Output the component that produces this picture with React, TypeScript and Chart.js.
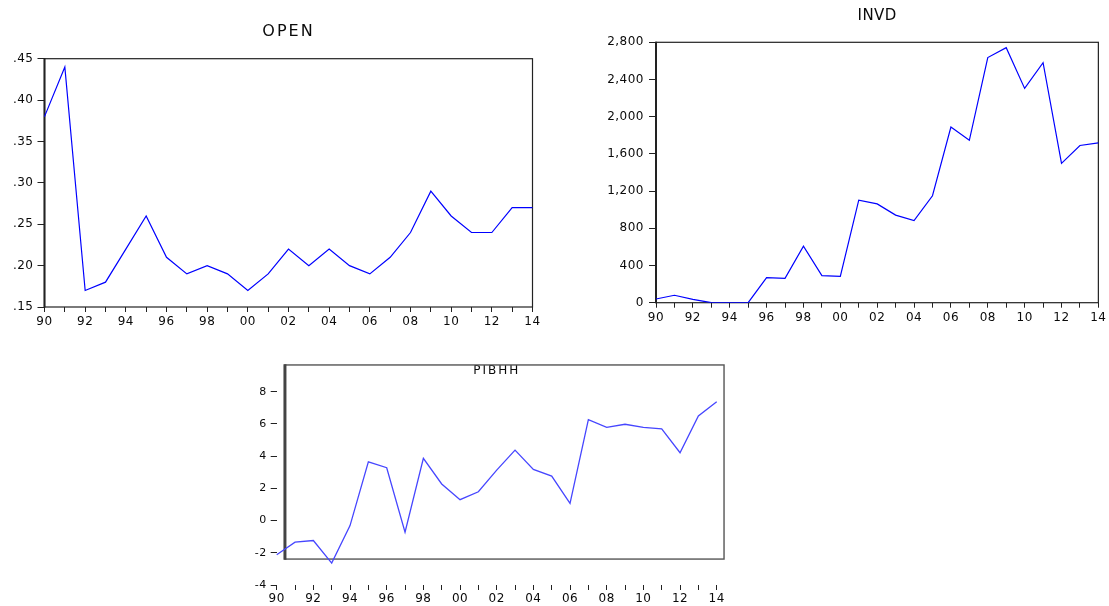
import React, { useEffect, useRef } from 'react';
import { Chart, registerables } from 'chart.js';

Chart.register(...registerables);

// ---------- data ----------
const years = ['90', '91', '92', '93', '94', '95', '96', '97', '98', '99', '00', '01', '02', '03', '04', '05', '06', '07', '08', '09', '10', '11', '12', '13', '14'];

const openValues = [0.38, 0.44, 0.17, 0.18, 0.22, 0.26, 0.21, 0.19, 0.20, 0.19, 0.17, 0.19, 0.22, 0.20, 0.22, 0.20, 0.19, 0.21, 0.24, 0.29, 0.26, 0.24, 0.24, 0.27, 0.27];
const invdValues = [40, 80, 35, 0, 0, 0, 270, 262, 608, 292, 282, 1102, 1062, 942, 884, 1150, 1888, 1746, 2636, 2742, 2304, 2580, 1498, 1690, 1718];
const pibhhValues = [-2.12, -1.34, -1.24, -2.64, -0.31, 3.65, 3.28, -0.72, 3.86, 2.27, 1.30, 1.79, 3.13, 4.37, 3.18, 2.76, 1.07, 6.27, 5.79, 5.98, 5.79, 5.69, 4.21, 6.49, 7.38];

const openYTicks = [0.15, 0.20, 0.25, 0.30, 0.35, 0.40, 0.45];
const invdYTicks = [0, 400, 800, 1200, 1600, 2000, 2400, 2800];
const pibhhYTicks = [-4, -2, 0, 2, 4, 6, 8];

// frame of the PIBHH panel, in data units (category index / value)
const pibhhFrame = { x0: 0.45, x1: 24.4, y0: -2.39, y1: 9.66 };

// ---------- plugins ----------
const spacingPlugin = {
  id: 'spacing',
  beforeDraw(chart: any, _a: any, opts: any) {
    chart.ctx.letterSpacing = opts.title || '0px';
  },
  afterDatasetsDraw(chart: any, _a: any, opts: any) {
    chart.ctx.letterSpacing = opts.ticks || '0px';
  },
  afterDraw(chart: any) {
    chart.ctx.letterSpacing = '0px';
  },
};

const framePlugin = {
  id: 'frame',
  beforeDatasetsDraw(chart: any, _a: any, opts: any) {
    const ctx = chart.ctx;
    let l: number, r: number, t: number, b: number;
    if (opts.box) {
      const xs = chart.scales.x;
      const ys = chart.scales.y;
      l = xs.getPixelForValue(opts.box.x0);
      r = xs.getPixelForValue(opts.box.x1);
      t = ys.getPixelForValue(opts.box.y1);
      b = ys.getPixelForValue(opts.box.y0);
    } else {
      const a = chart.chartArea;
      l = a.left; r = a.right; t = a.top; b = a.bottom;
    }
    ctx.save();
    ctx.strokeStyle = opts.color;
    ctx.lineWidth = opts.width;
    ctx.strokeRect(l, t, r - l, b - t);
    ctx.lineWidth = opts.leftWidth;
    ctx.strokeStyle = opts.leftColor || opts.color;
    ctx.beginPath();
    ctx.moveTo(l, t - opts.width / 2);
    ctx.lineTo(l, b + opts.width / 2);
    ctx.stroke();
    ctx.restore();
  },
};

type Spec = {
  title: string;
  values: number[];
  color: string;
  lineWidth: number;
  yTicks: number[];
  yFormat: (v: number) => string;
  yWidth: number;
  xHeight: number;
  padRight: number;
  titleSize: number;
  titlePad: { top: number; bottom: number };
  titleSpacing: string;
  tickSpacing: string;
  xTickLen: number;
  xTickPad: number;
  yTickLen: number;
  yTickPad: number;
  xFont: number;
  yFont: number;
  frame: any;
};

const FONT = "'DejaVu Sans', 'Liberation Sans', sans-serif";
const TEXT = '#0a0a0a';

function makeConfig(s: Spec): any {
  return {
    type: 'line',
    data: {
      labels: years,
      datasets: [
        {
          data: s.values,
          borderColor: s.color,
          borderWidth: s.lineWidth,
          pointRadius: 0,
          tension: 0,
          fill: false,
        },
      ],
    },
    options: {
      animation: false,
      responsive: false,
      devicePixelRatio: 1,
      layout: { padding: { left: 0, right: s.padRight, top: 0, bottom: 0 } },
      plugins: {
        legend: { display: false },
        tooltip: { enabled: false },
        title: {
          display: true,
          text: s.title,
          fullSize: false,
          color: TEXT,
          font: { family: FONT, size: s.titleSize, weight: 'normal', lineHeight: 1.2 },
          padding: s.titlePad,
        },
        spacing: { title: s.titleSpacing, ticks: s.tickSpacing },
        frame: s.frame,
      },
      scales: {
        x: {
          type: 'category',
          offset: false,
          border: { display: false },
          grid: {
            display: true,
            drawOnChartArea: false,
            drawTicks: true,
            tickLength: s.xTickLen,
            tickColor: '#222',
            lineWidth: 1,
            offset: false,
          },
          ticks: {
            z: 1,
            autoSkip: false,
            maxRotation: 0,
            minRotation: 0,
            padding: s.xTickPad,
            color: TEXT,
            font: { family: FONT, size: s.xFont },
            callback: function (this: any, v: any, i: number) {
              return i % 2 === 0 ? this.getLabelForValue(v) : '';
            },
          },
          afterFit: (sc: any) => {
            sc.height = s.xHeight;
          },
        },
        y: {
          type: 'linear',
          min: s.yTicks[0],
          max: s.yTicks[s.yTicks.length - 1],
          border: { display: false },
          grid: {
            display: true,
            drawOnChartArea: false,
            drawTicks: true,
            tickLength: s.yTickLen,
            tickColor: '#222',
            lineWidth: 1,
          },
          ticks: {
            z: 1,
            padding: s.yTickPad,
            color: TEXT,
            font: { family: FONT, size: s.yFont },
            callback: (v: any) => s.yFormat(Number(v)),
          },
          afterBuildTicks: (sc: any) => {
            sc.ticks = s.yTicks.map((v) => ({ value: v }));
          },
          afterFit: (sc: any) => {
            sc.width = s.yWidth;
          },
        },
      },
    },
    plugins: [spacingPlugin, framePlugin],
  };
}

function ChartBox(props: { spec: Spec; left: number; top: number; width: number; height: number }) {
  const ref = useRef<HTMLCanvasElement | null>(null);
  useEffect(() => {
    if (!ref.current) return;
    const chart = new Chart(ref.current, makeConfig(props.spec));
    return () => chart.destroy();
  }, []);
  return (
    <canvas
      ref={ref}
      width={props.width}
      height={props.height}
      style={{ position: 'absolute', left: props.left, top: props.top, width: props.width, height: props.height }}
    />
  );
}

const openSpec: Spec = {
  title: 'OPEN',
  values: openValues,
  color: '#0000ff',
  lineWidth: 1.2,
  yTicks: openYTicks,
  yFormat: (v) => '.' + v.toFixed(2).split('.')[1],
  yWidth: 44.5,
  xHeight: 23,
  padRight: 27.5,
  titleSize: 16,
  titlePad: { top: 22.4, bottom: 17.1 },
  titleSpacing: '2px',
  tickSpacing: '0.5px',
  xTickLen: 5,
  xTickPad: 3,
  yTickLen: 7,
  yTickPad: 4,
  xFont: 12,
  yFont: 12,
  frame: { color: '#222', width: 1.2, leftWidth: 2 },
};

const invdSpec: Spec = {
  title: 'INVD',
  values: invdValues,
  color: '#0000ff',
  lineWidth: 1.2,
  yTicks: invdYTicks,
  yFormat: (v) => v.toLocaleString('en-US'),
  yWidth: 66,
  xHeight: 27.3,
  padRight: 9.5,
  titleSize: 15,
  titlePad: { top: 7, bottom: 17.3 },
  titleSpacing: '0.5px',
  tickSpacing: '0.5px',
  xTickLen: 5,
  xTickPad: 3,
  yTickLen: 7,
  yTickPad: 5,
  xFont: 12,
  yFont: 12,
  frame: { color: '#222', width: 1.2, leftWidth: 2 },
};

const pibhhSpec: Spec = {
  title: 'PIBHH',
  values: pibhhValues,
  color: '#4646ff',
  lineWidth: 1.3,
  yTicks: pibhhYTicks,
  yFormat: (v) => String(v),
  yWidth: 36.7,
  xHeight: 21,
  padRight: 23.3,
  titleSize: 12,
  titlePad: { top: 8.5, bottom: 13.8 },
  titleSpacing: '2px',
  tickSpacing: '0.5px',
  xTickLen: 5,
  xTickPad: 2,
  yTickLen: 6,
  yTickPad: 4,
  xFont: 12,
  yFont: 11,
  frame: { box: pibhhFrame, color: '#555', width: 1.4, leftWidth: 3, leftColor: '#444' },
};

export default function App() {
  return (
    <div style={{ position: 'absolute', left: 0, top: 0, width: 1109, height: 606, background: '#fff', overflow: 'hidden' }}>
      <ChartBox spec={openSpec} left={0} top={0} width={560} height={330} />
      <ChartBox spec={invdSpec} left={590} top={0} width={519} height={330} />
      <ChartBox spec={pibhhSpec} left={240} top={355} width={500} height={251} />
    </div>
  );
}
